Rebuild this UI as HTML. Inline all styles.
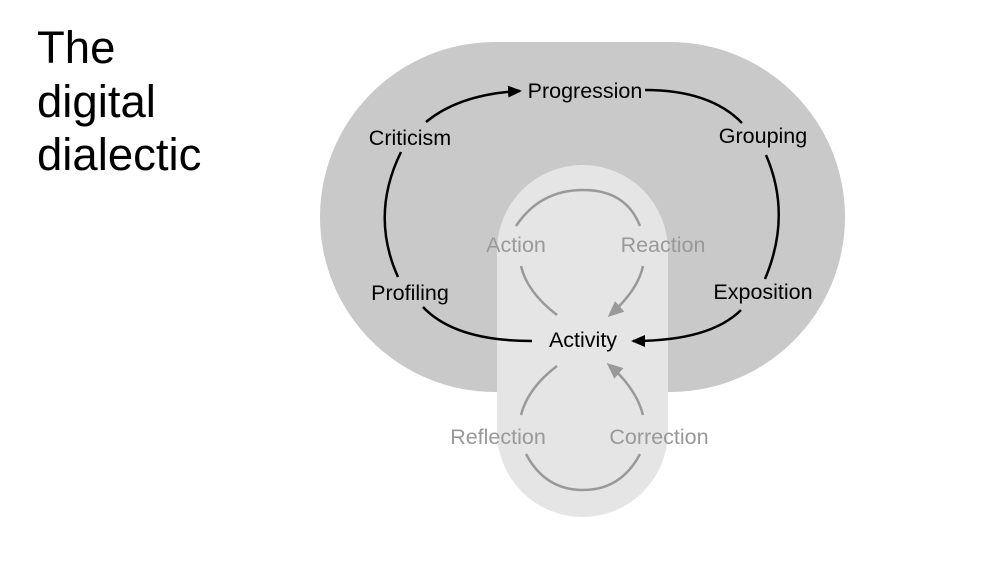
<!DOCTYPE html>
<html><head><meta charset="utf-8"><style>
html,body{margin:0;padding:0;background:#fff;}
svg{display:block;}
text{font-family:"Liberation Sans",Arial,sans-serif;}
</style></head><body>
<svg width="1000" height="563" viewBox="0 0 1000 563" xmlns="http://www.w3.org/2000/svg">
<defs>
<marker id="ab" markerWidth="14" markerHeight="14" refX="12" refY="7" orient="auto" markerUnits="userSpaceOnUse">
<path d="M0,1 L14,7 L0,13 Z" fill="#000"/></marker>
<marker id="ag" markerWidth="16" markerHeight="16" refX="13" refY="8" orient="auto" markerUnits="userSpaceOnUse">
<path d="M0,1 L16,8 L0,15 Z" fill="#999"/></marker>
</defs>
<text x="37" y="63" font-size="45.5" fill="#000">The</text>
<text x="37" y="117" font-size="45.5" fill="#000">digital</text>
<text x="37" y="170" font-size="45.5" fill="#000">dialectic</text>

<rect x="320" y="42" width="525" height="350" rx="175" ry="175" fill="#c9c9c9"/>
<rect x="497" y="165" width="171" height="352" rx="85.5" ry="85.5" fill="#e5e5e5"/>

<g fill="none" stroke="#000" stroke-width="2.5">
<path d="M426,122 Q460,94 520,91" marker-end="url(#ab)"/>
<path d="M645,90 Q710,90 742,123"/>
<path d="M766,155 Q792,215 765,279"/>
<path d="M741,310 Q710,341 633,341" marker-end="url(#ab)"/>
<path d="M423,307 Q455,341 532,341"/>
<path d="M398,277 Q370,215 401,152"/>
</g>
<g fill="none" stroke="#999" stroke-width="2.5">
<path d="M516,226 Q540,190 583,190 Q626,190 640,226"/>
<path d="M521,266 Q527,292 557,315"/>
<path d="M643,266 Q638,290 610,315" marker-end="url(#ag)"/>
<path d="M557,366 Q528,388 521,415"/>
<path d="M643,415 Q636,388 609,365" marker-end="url(#ag)"/>
<path d="M526,454 Q545,490 583,490 Q621,490 640,454"/>
</g>

<g font-size="21.5" fill="#000" text-anchor="middle">
<text x="585" y="98">Progression</text>
<text x="410" y="145">Criticism</text>
<text x="763" y="143">Grouping</text>
<text x="410" y="300">Profiling</text>
<text x="763" y="299">Exposition</text>
<text x="583" y="347">Activity</text>
</g>
<g font-size="21.5" fill="#999" text-anchor="middle">
<text x="516" y="252">Action</text>
<text x="663" y="252">Reaction</text>
<text x="498" y="444">Reflection</text>
<text x="659" y="444">Correction</text>
</g>
</svg>
</body></html>
